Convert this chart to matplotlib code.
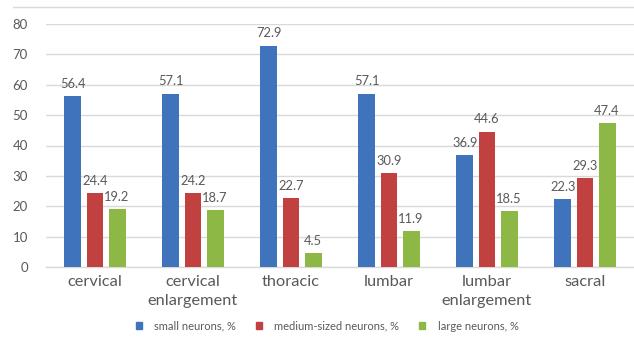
import matplotlib
matplotlib.use("Agg")
import matplotlib.pyplot as plt
from matplotlib.lines import Line2D
import numpy as np

categories = ["cervical", "cervical\nenlargement", "thoracic", "lumbar", "lumbar\nenlargement", "sacral"]
small = [56.4, 57.1, 72.9, 57.1, 36.9, 22.3]
medium = [24.4, 24.2, 22.7, 30.9, 44.6, 29.3]
large = [19.2, 18.7, 4.5, 11.9, 18.5, 47.4]
series_names = ["small neurons, %", "medium-sized neurons, %", "large neurons, %"]
colors = ["#3F74BD", "#C0413F", "#8DB845"]
yticks = [0, 10, 20, 30, 40, 50, 60, 70, 80]

FONT = ["Lato", "DejaVu Sans"]
TXT = "#595959"

fig = plt.figure(figsize=(6.34, 3.45), dpi=100)
ax = fig.add_axes([46/634, 1-267/345, 1-46/634, (267-24)/345])

x = np.arange(len(categories))
offs = [-0.225, 0.0, 0.225]
w = 0.173
for vals, off, c, name in zip([small, medium, large], offs, colors, series_names):
    bars = ax.bar(x + off, vals, width=w, color=c, label=name, zorder=3)
    for b, v in zip(bars, vals):
        ax.text(b.get_x() + b.get_width()/2, v + 2.0, f"{v}", ha="center", va="bottom",
                fontsize=9.3, color=TXT, family=FONT)

ax.set_xlim(-0.5, 5.5)
ax.set_ylim(0, 80)
ax.set_yticks(yticks)
ax.set_yticklabels([str(t) for t in yticks], fontsize=9.5, color=TXT, family=FONT)
ax.yaxis.grid(True, color="#D9D9D9", linewidth=1.0, zorder=0)
ax.set_axisbelow(True)
for s in ["top", "right", "left"]:
    ax.spines[s].set_visible(False)
ax.spines["bottom"].set_color("#D9D9D9")
ax.spines["bottom"].set_linewidth(1.0)
ax.tick_params(axis="y", length=0, pad=13)
ax.tick_params(axis="x", length=0, pad=6)
ax.set_xticks(x)
ax.set_xticklabels(categories, fontsize=11.8, color=TXT, family=FONT, linespacing=1.45)

# top border line
fig.add_artist(Line2D([13/634, 1.0], [1-7/345, 1-7/345], color="#D9D9D9", linewidth=1.0))

handles = [plt.Rectangle((0, 0), 1, 1, color=c) for c in colors]
fig.legend(handles, series_names, loc="center", bbox_to_anchor=(327/634, 1-326/345),
           ncol=3, frameon=False, prop={"family": FONT, "size": 8},
           handlelength=0.55, handleheight=0.55, handletextpad=1.1, columnspacing=1.8,
           labelcolor=TXT)

fig.savefig("out.png", dpi=100)
